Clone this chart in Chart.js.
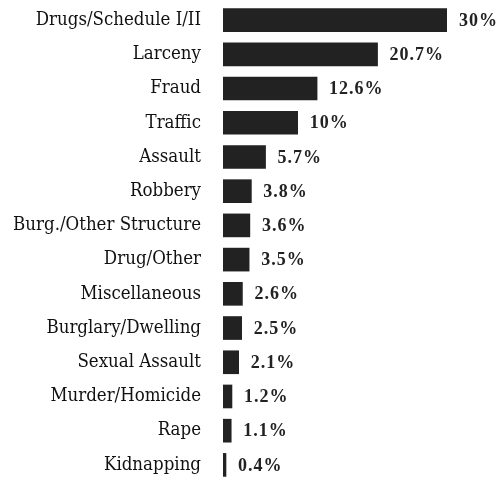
<!DOCTYPE html>
<html lang="en">
<head>
    <meta charset="UTF-8">
    <title>Offense Share</title>
    <script src="https://cdn.jsdelivr.net/npm/chart.js@4.4.1/dist/chart.umd.min.js"></script>
    <style>
        html, body { margin: 0; padding: 0; background: #fff; }
        #wrap { width: 500px; height: 482px; position: relative; }
    </style>
</head>
<body>
    <div id="wrap"><canvas id="offenseChart"></canvas></div>
    <script>
        const offenses = [
            'Drugs/Schedule I/II', 'Larceny', 'Fraud', 'Traffic', 'Assault', 'Robbery',
            'Burg./Other Structure', 'Drug/Other', 'Miscellaneous', 'Burglary/Dwelling',
            'Sexual Assault', 'Murder/Homicide', 'Rape', 'Kidnapping'
        ];
        const shares = [30, 20.7, 12.6, 10, 5.7, 3.8, 3.6, 3.5, 2.6, 2.5, 2.1, 1.2, 1.1, 0.4];

        // percent labels just past the end of each bar
        const valueLabels = {
            id: 'valueLabels',
            afterDatasetsDraw(chart) {
                const ctx = chart.ctx;
                const meta = chart.getDatasetMeta(0);
                ctx.save();
                ctx.font = 'bold 18px "Liberation Serif"';
                ctx.letterSpacing = '1px';
                ctx.fillStyle = '#222';
                ctx.textAlign = 'left';
                ctx.textBaseline = 'middle';
                meta.data.forEach((bar, i) => {
                    ctx.fillText(shares[i] + '%', bar.x + 12, bar.y + 1);
                });
                ctx.restore();
            }
        };

        new Chart(document.getElementById('offenseChart'), {
            type: 'bar',
            data: {
                labels: offenses,
                datasets: [{
                    data: shares,
                    backgroundColor: '#222222',
                    barThickness: 23
                }]
            },
            options: {
                indexAxis: 'y',
                responsive: true,
                maintainAspectRatio: false,
                animation: false,
                layout: { padding: { top: 3, bottom: 0, left: 0, right: 53 } },
                plugins: { legend: { display: false }, tooltip: { enabled: false } },
                scales: {
                    x: { display: false, min: 0, max: 30 },
                    y: {
                        afterFit(axis) {
                            axis.width = 223;
                            axis.paddingTop = 0;
                            axis.paddingBottom = 0;
                        },
                        grid: { display: false, drawTicks: false },
                        border: { display: false },
                        ticks: {
                            padding: 22,
                            color: '#111',
                            font: { family: '"DejaVu Serif Condensed", "DejaVu Serif"', size: 18.5 }
                        }
                    }
                }
            },
            plugins: [valueLabels]
        });
    </script>
</body>
</html>
